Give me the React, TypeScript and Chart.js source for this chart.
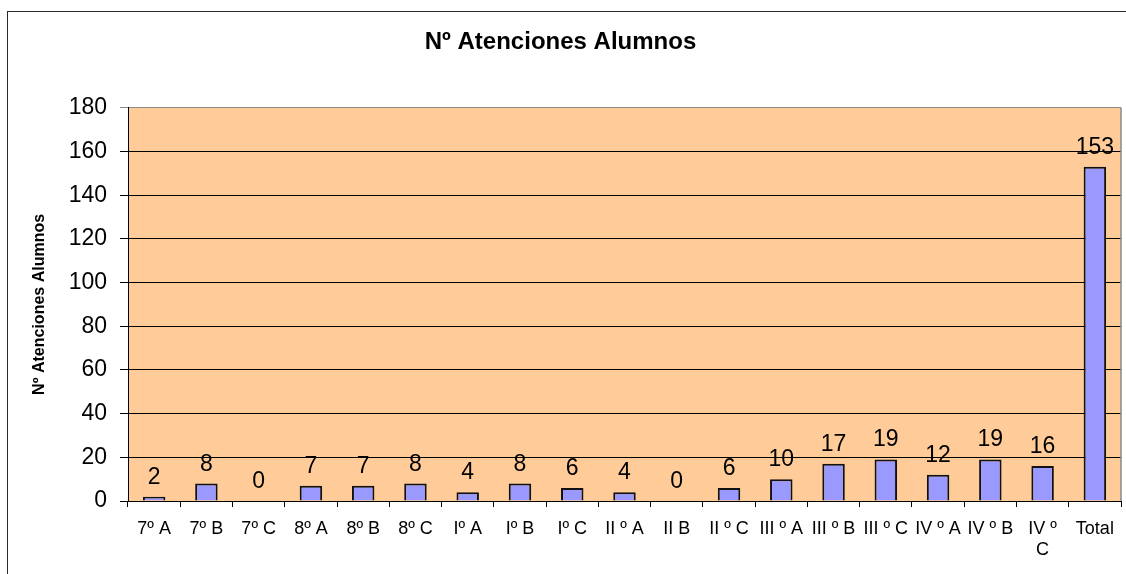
import React, { useEffect, useRef } from "react";
import { Chart, registerables } from "chart.js";

Chart.register(...registerables);

const chartTitle = "Nº Atenciones Alumnos";
const yAxisTitle = "Nº Atenciones Alumnos";
const categories: (string | string[])[] = [
  "7º A", "7º B", "7º C", "8º A", "8º B", "8º C", "Iº A", "Iº B", "Iº C",
  "II º A", "II B", "II º C", "III º A", "III º B", "III º C", "IV º A", "IV º B",
  ["IV º", "C"], "Total",
];
const values = [2, 8, 0, 7, 7, 8, 4, 8, 6, 4, 0, 6, 10, 17, 19, 12, 19, 16, 153];
const yMin = 0;
const yMax = 180;
const yStep = 20;

const FONT = "'Liberation Sans', Arial, sans-serif";

export default function App() {
  const ref = useRef<HTMLCanvasElement>(null);

  useEffect(() => {
    document.body.style.margin = "0";
    const bgPlugin = {
      id: "plotBg",
      beforeDraw(chart: any) {
        const { ctx, chartArea: a } = chart;
        ctx.save();
        ctx.fillStyle = "#FFCC99";
        ctx.fillRect(a.left, a.top, a.right - a.left, a.bottom - a.top);
        ctx.restore();
      },
      afterDraw(chart: any) {
        const { ctx, chartArea: a } = chart;
        ctx.save();
        ctx.strokeStyle = "#8a8a8a";
        ctx.lineWidth = 1.5;
        ctx.beginPath();
        ctx.moveTo(a.right, a.top);
        ctx.lineTo(a.right, a.bottom);
        ctx.stroke();
        ctx.restore();
      },
    };
    const labelPlugin = {
      id: "valueLabels",
      afterDatasetsDraw(chart: any) {
        const { ctx } = chart;
        const meta = chart.getDatasetMeta(0);
        ctx.save();
        ctx.fillStyle = "#000";
        ctx.font = `23px ${FONT}`;
        ctx.textAlign = "center";
        ctx.textBaseline = "alphabetic";
        meta.data.forEach((bar: any, i: number) => {
          ctx.fillText(String(values[i]), bar.x, bar.y - 13);
        });
        ctx.restore();
      },
    };

    const chart = new Chart(ref.current as HTMLCanvasElement, {
      type: "bar",
      data: {
        labels: categories,
        datasets: [
          {
            data: values,
            backgroundColor: "#9999FF",
            borderColor: "#111",
            borderWidth: 2,
            barPercentage: 0.43,
            categoryPercentage: 1.0,
          },
        ],
      },
      options: {
        animation: false,
        responsive: false,
        devicePixelRatio: 1,
        layout: { padding: { left: 0, right: 5, top: 0, bottom: 0 } },
        plugins: {
          legend: { display: false },
          tooltip: { enabled: false },
          title: {
            display: true,
            text: chartTitle,
            color: "#000",
            font: { family: FONT, size: 24, weight: "bold" },
            padding: { top: 28, bottom: 51 },
          },
        },
        scales: {
          x: {
            offset: true,
            grid: {
              display: true,
              offset: true,
              drawOnChartArea: false,
              drawTicks: true,
              tickLength: 6,
              color: "#000",
            },
            border: { display: true, color: "#000", width: 1 },
            ticks: {
              color: "#000",
              font: { family: FONT, size: 18 },
              maxRotation: 0,
              minRotation: 0,
              autoSkip: false,
              padding: 11,
            },
            afterFit(scale: any) {
              scale.height = 73;
            },
          },
          y: {
            min: yMin,
            max: yMax,
            ticks: {
              stepSize: yStep,
              color: "#000",
              font: { family: FONT, size: 23 },
              padding: 13,
            },
            grid: {
              color: (c: any) => (c.tick && c.tick.value === yMax ? "#8a8a8a" : "#000"),
              lineWidth: 1,
              tickLength: 8,
            },
            border: { display: true, color: "#000", width: 1 },
            title: {
              display: true,
              text: yAxisTitle,
              color: "#000",
              font: { family: FONT, size: 16, weight: "bold" },
              padding: { top: 30, bottom: 0 },
            },
            afterFit(scale: any) {
              scale.width = 128;
            },
          },
        },
      },
      plugins: [bgPlugin, labelPlugin],
    } as any);
    return () => chart.destroy();
  }, []);

  return (
    <div style={{ position: "relative", width: 1126, height: 574, overflow: "hidden", background: "#fff" }}>
      <canvas ref={ref} width={1126} height={574} style={{ position: "absolute", left: 0, top: 0 }} />
      <div
        style={{
          position: "absolute",
          left: 7,
          top: 11,
          width: 1400,
          height: 900,
          border: "1.5px solid #2a2a2a",
          boxSizing: "border-box",
          pointerEvents: "none",
        }}
      />
    </div>
  );
}
